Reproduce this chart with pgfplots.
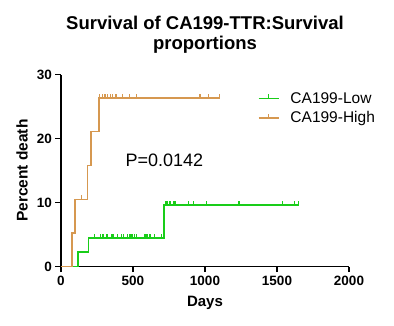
\documentclass[border=0pt]{standalone}
\usepackage{pgfplots}
\pgfplotsset{compat=1.18}
\usepackage{fontspec}
\setmainfont{Liberation Sans}
\definecolor{cahigh}{RGB}{214,152,80}
\definecolor{calow}{RGB}{25,205,25}
\pgfdeclareplotmark{cens}{\pgfpathmoveto{\pgfpoint{0pt}{-0.5pt}}\pgfpathlineto{\pgfpoint{0pt}{4pt}}\pgfusepathqstroke}
\begin{document}
\begin{tikzpicture}
\useasboundingbox (0,0) rectangle (394pt,326pt);
\begin{axis}[
  at={(61pt,59.3pt)}, anchor=south west,
  scale only axis, width=288pt, height=192pt,
  xmin=0, xmax=2000, ymin=0, ymax=30,
  axis lines=left, axis line style={line width=1.6pt, -},
  xtick={0,500,1000,1500,2000}, ytick={0,10,20,30},
  tick align=outside, major tick length=5.5pt,
  tick style={line width=1.4pt, black},
  /pgf/number format/assume math mode=true,
  /pgf/number format/set thousands separator={},
  ticklabel style={font=\bfseries\fontsize{13.5}{13.5}\selectfont},
  xlabel={Days}, ylabel={Percent death},
  x label style={font=\bfseries\fontsize{15}{15}\selectfont, at={(axis description cs:0.5,-0.188)}, anchor=center},
  y label style={font=\bfseries\fontsize{15.5}{15.5}\selectfont, at={(axis description cs:-0.135,0.5)}, anchor=center},
  title={Survival of CA199-TTR:Survival\\proportions},
  title style={font=\bfseries\fontsize{18.5}{20}\selectfont, align=center, at={(0.5,1)}, anchor=south, yshift=12pt},
  legend style={draw=none, fill=none, at={(axis cs:1345,27.9)}, anchor=north west,
    font=\fontsize{15.5}{15.5}\selectfont, row sep=3pt,
    /tikz/every odd column/.append style={column sep=9pt}},
  legend cell align=left,
  legend image code/.code={\draw[#1] (0pt,0pt) -- (20pt,0pt); \draw[#1] (10pt,-0.5pt) -- (10pt,4pt);},
  clip=false,
]
\addplot[const plot, draw=calow, mark=none, line width=1.6pt]
  coordinates {(0,0) (116,2.3) (190,4.5) (717,9.6) (1650,9.6)};
\addlegendentry{CA199-Low}
\addplot[const plot, draw=cahigh, mark=none, line width=1.6pt]
  coordinates {(0,0) (78,5.3) (99,10.5) (183,15.8) (210,21.1) (264,26.4) (1103,26.4)};
\addlegendentry{CA199-High}
\addplot[only marks, mark=cens, calow, line width=1.2pt, forget plot] coordinates {
 (231,4.5) (275,4.5) (287,4.5) (294,4.5) (319,4.5) (354,4.5) (363,4.5) (391,4.5)
 (421,4.5) (433,4.5) (463,4.5) (474,4.5) (486,4.5) (497,4.5) (511,4.5) (527,4.5)
 (581,4.5) (590,4.5) (599,4.5) (618,4.5) (652,4.5) (699,4.5)
 (729,9.6) (738,9.6) (752,9.6) (763,9.6) (780,9.6) (791,9.6) (888,9.6) (918,9.6)
 (1011,9.6) (1231,9.6) (1242,9.6) (1538,9.6) (1619,9.6) (1647,9.6)};
\addplot[only marks, mark=cens, cahigh, line width=1.2pt, forget plot] coordinates {
 (143,10.5) (266,26.4) (287,26.4) (305,26.4) (324,26.4) (342,26.4) (356,26.4)
 (382,26.4) (428,26.4) (474,26.4) (525,26.4) (965,26.4) (1022,26.4) (1103,26.4)};
\node[font=\fontsize{18}{18}\selectfont] at (axis cs:718,16.7) {P=0.0142};
\end{axis}
\end{tikzpicture}
\end{document}
